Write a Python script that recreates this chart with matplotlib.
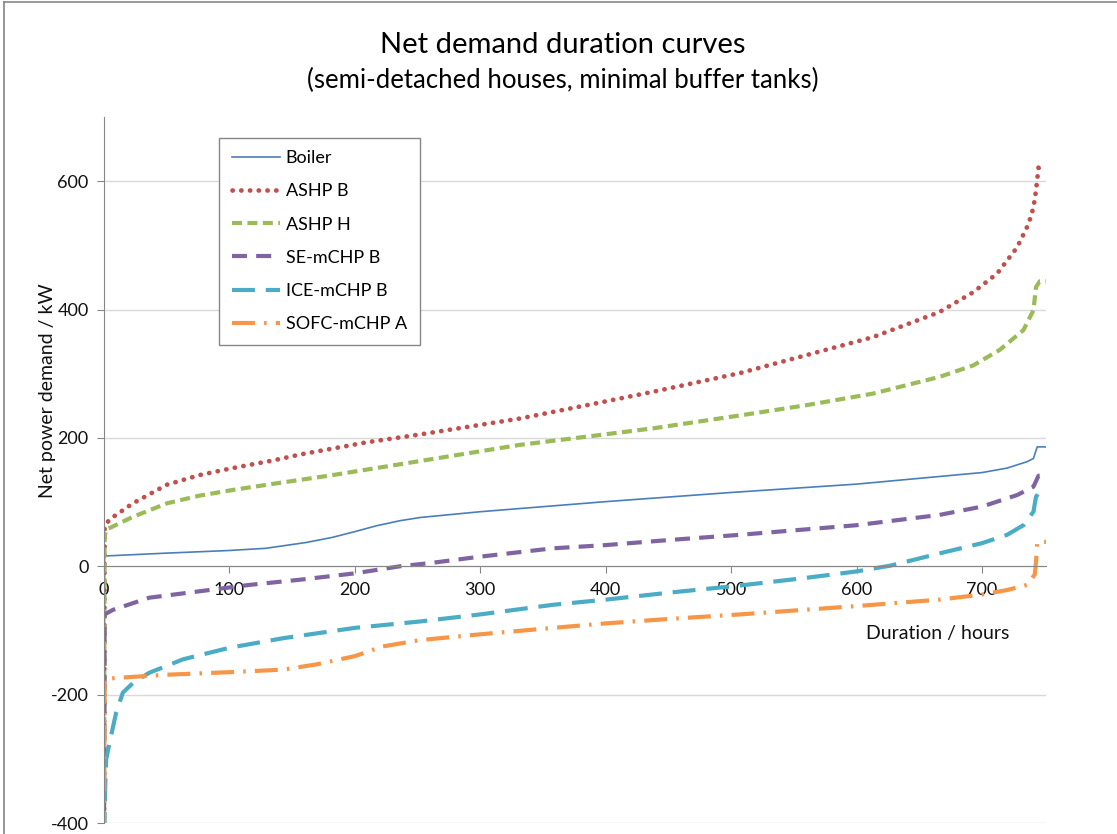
# Net demand duration curves - semi-detached houses, minimal buffer tanks
import matplotlib
matplotlib.use("Agg")
import matplotlib.pyplot as plt
from matplotlib.lines import Line2D

plt.rcParams['font.family'] = ['Lato', 'DejaVu Sans']
plt.rcParams['axes.unicode_minus'] = False

# series (hours, kW)
boiler_h = [0, 0.5, 50, 100, 129, 161, 182, 200, 217, 236, 252, 300, 400, 500, 600, 700, 720, 736, 741, 744, 751]
boiler = [-430, 16, 20.5, 24.6, 28, 37, 45, 54, 63, 71, 76, 85, 100.7, 115, 128, 146, 153, 163, 168, 186, 186]

ashp_b_h = [0, 0.5, 4.4, 23, 50, 76, 100, 135, 156, 209, 254, 331, 385, 438, 507, 560, 613, 666, 693, 712, 728, 737, 741, 743, 745, 751]
ashp_b = [-430, 62, 73, 98, 127, 142, 152, 165, 174, 193, 206, 230, 251, 272, 301, 329, 357, 396, 427, 456, 497, 533, 559, 585, 621, 622]

ashp_h_h = [0, 0.5, 1.7, 23, 50, 76, 103, 130, 182, 252, 331, 385, 438, 507, 560, 613, 666, 693, 714, 733, 741, 743, 746, 751]
ashp_h = [-430, 46, 57, 77, 98, 110, 119, 127, 142, 164, 189, 202, 215, 235, 251, 269, 295, 313, 337, 368, 399, 435, 444, 444]

se_h = [0, 0.5, 7, 36, 76, 116, 156, 200, 236, 260, 300, 358, 400, 451, 507, 600, 666, 700, 728, 741, 745, 751]
se = [-430, -75, -68, -49, -39, -29, -21, -11, 0, 5, 15, 28, 33, 41, 49, 64, 80, 93, 111, 124, 141, 141]

ice_h = [0, 1, 1.7, 4.4, 9.7, 15, 23, 36, 63, 100, 143, 200, 252, 300, 358, 400, 451, 507, 560, 600, 627, 666, 700, 720, 733, 741, 743, 745, 751]
ice = [-430, -340, -301, -275, -228, -197, -182, -166, -145, -127, -112, -96, -86, -75, -60, -52, -41, -30, -18, -8, 1, 20, 36, 49, 64, 85, 108, 114, 114]

sofc_h = [0, 0.5, 9.7, 50, 100, 143, 169, 200, 222, 252, 300, 358, 400, 451, 507, 600, 666, 700, 720, 736, 742, 743, 744, 751]
sofc = [-430, -176, -174, -169, -165, -161, -153, -140, -125, -115, -106, -96, -89, -82, -75, -62, -52, -44, -37, -29, -13, 5, 38, 38]

fig = plt.figure(figsize=(11.17, 8.34), dpi=100)
ax = fig.add_axes([104/1117, 11/834, 942/1117, 706/834])

ax.plot(boiler_h, boiler, color='#4A7EBB', lw=1.2, label='Boiler')
ax.plot(ashp_b_h, ashp_b, color='#C0504D', lw=3.4, linestyle=(0, (0.05, 1.8)),
        dash_capstyle='round', label='ASHP B')
ax.plot(ashp_h_h, ashp_h, color='#9BBB59', lw=3, linestyle=(0, (2.4, 1.3)), label='ASHP H')
ax.plot(se_h, se, color='#8064A2', lw=3, linestyle=(0, (3.6, 2.2)), label='SE-mCHP B')
ax.plot(ice_h, ice, color='#4BACC6', lw=3, linestyle=(0, (5.5, 2.6)), label='ICE-mCHP B')
ax.plot(sofc_h, sofc, color='#F79646', lw=3, linestyle=(0, (5.5, 2.2, 0.6, 2.2)), label='SOFC-mCHP A')

ax.set_xlim(0, 751)
ax.set_ylim(-400, 700)
ax.set_xticks(range(0, 701, 100))
ax.set_yticks(range(-400, 601, 200))
ax.set_axisbelow(True)
ax.grid(axis='y', color='#D9D9D9', lw=1)

for s in ['top', 'right']:
    ax.spines[s].set_visible(False)
ax.spines['bottom'].set_position(('data', 0))
ax.spines['bottom'].set_color('#868686')
ax.spines['left'].set_color('#868686')
ax.tick_params(axis='x', direction='out', length=5, color='#868686', labelsize=13, pad=6, labelcolor='#111111')
ax.tick_params(axis='y', direction='out', length=5, color='#868686', labelsize=13, pad=6, labelcolor='#111111')

ax.text((938-104)/942, (823-633)/706, 'Duration / hours', transform=ax.transAxes,
        ha='center', va='center', fontsize=14, color='#111111')

fig.text(48/1117, 1 - 391/834, 'Net power demand / kW', rotation=90, ha='center', va='center',
         fontsize=14, color='#111111')
fig.text(563/1117, 1 - 45/834, 'Net demand duration curves', ha='center', va='center', fontsize=21)
fig.text(563/1117, 1 - 80/834, '(semi-detached houses, minimal buffer tanks)', ha='center', va='center', fontsize=18.5)

leg = ax.legend(loc='upper left', bbox_to_anchor=((219-104)/942, (823-137.7)/706), borderaxespad=0,
                fontsize=13, frameon=True, fancybox=False, edgecolor='#868686', framealpha=1,
                handlelength=2.7, handletextpad=0.3, labelspacing=0.95, borderpad=0.7)
leg.get_frame().set_linewidth(1)

# chart area border (top and left visible)
fig.add_artist(Line2D([4/1117, 1], [1 - 2/834, 1 - 2/834], color='#868686', lw=1.2))
fig.add_artist(Line2D([4/1117, 4/1117], [0, 1 - 2/834], color='#868686', lw=1.2))

fig.savefig('out.png', dpi=100)
